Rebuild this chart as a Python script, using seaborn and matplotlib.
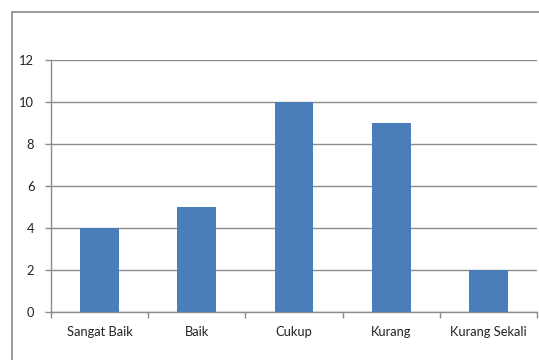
import matplotlib
matplotlib.use("Agg")
import matplotlib.pyplot as plt
import seaborn as sns
import pandas as pd
from matplotlib.lines import Line2D

categories = ["Sangat Baik", "Baik", "Cukup", "Kurang", "Kurang Sekali"]
values = [4, 5, 10, 9, 2]
yticks = [0, 2, 4, 6, 8, 10, 12]

sns.set_theme(style="white")
plt.rcParams['font.family'] = ['Lato', 'DejaVu Sans']

df = pd.DataFrame({"kategori": categories, "nilai": values})

fig = plt.figure(figsize=(5.39, 3.6), dpi=100)
ax = fig.add_axes([51/539, 1-312/360, (537-51)/539, (312-60)/360])

sns.barplot(data=df, x="kategori", y="nilai", color="#4A7EBB", width=0.4,
            saturation=1, linewidth=0, edgecolor="none", ax=ax, zorder=3)

ax.set_xlim(-0.5, len(categories) - 0.5)
ax.set_ylim(0, 12)
ax.set_yticks(yticks)
ax.set_yticklabels([str(t) for t in yticks])
ax.set_xlabel("")
ax.set_ylabel("")

gridc = "#8C8C8C"
ax.yaxis.grid(True, color=gridc, linewidth=1.0, zorder=0)
ax.xaxis.grid(False)
ax.set_axisbelow(True)

for s in ["top", "right"]:
    ax.spines[s].set_visible(False)
for s in ["left", "bottom"]:
    ax.spines[s].set_visible(True)
    ax.spines[s].set_color(gridc)
    ax.spines[s].set_linewidth(1.0)

ax.tick_params(axis="y", which="major", length=4, width=1, color=gridc,
               direction="out", left=True, pad=8, labelsize=9.3, labelcolor="#222222")
ax.tick_params(axis="x", which="major", length=0, pad=10, labelsize=9.3,
               labelcolor="#222222")
ax.set_xticks([i - 0.5 for i in range(len(categories) + 1)], minor=True)
ax.tick_params(axis="x", which="minor", length=4, width=1, color=gridc,
               direction="out", bottom=True)

# outer chart border (Excel chart area)
fig.add_artist(Line2D([12/539, 12/539], [0, 1-12/360], transform=fig.transFigure,
                      color="#8C8C8C", linewidth=1.2))
fig.add_artist(Line2D([12/539, 1], [1-12/360, 1-12/360], transform=fig.transFigure,
                      color="#8C8C8C", linewidth=1.2))

fig.savefig("out.png", dpi=100, facecolor="white")
